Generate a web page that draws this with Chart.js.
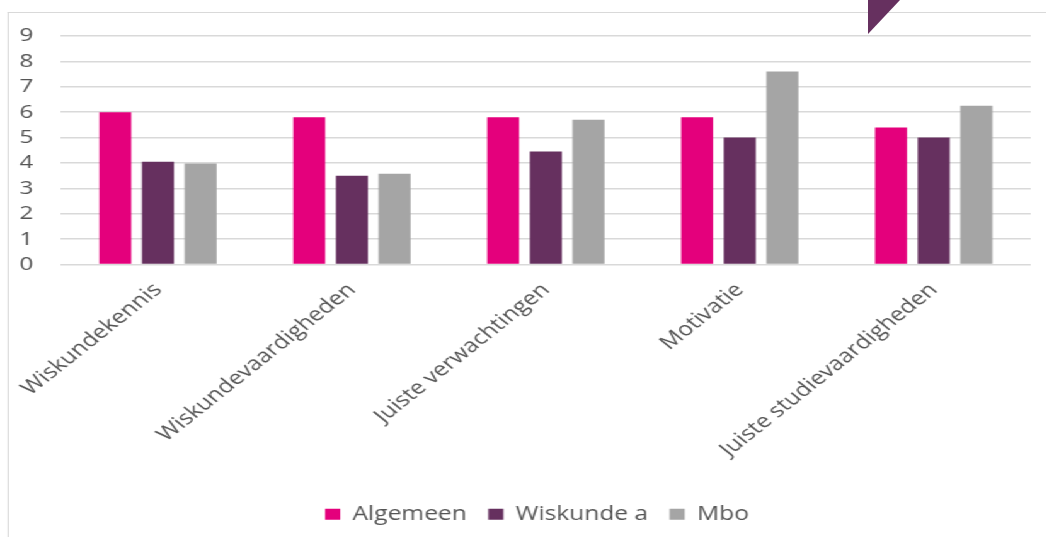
<!DOCTYPE html>
<html>
<head>
<meta charset="utf-8">
<script src="https://cdn.jsdelivr.net/npm/chart.js@4.4.1/dist/chart.umd.min.js"></script>
<style>
  html, body { margin:0; padding:0; background:#fff; overflow:hidden; }
  body { width:1046px; height:537px; position:relative; }
  /* the reference is stretched sideways, so the chart is drawn narrower and scaled */
  #wrap { position:absolute; left:0; top:0; width:830px; height:537px; transform:scaleX(1.26); transform-origin:0 0; }
  #frame { position:absolute; left:6px; top:12px; right:-40px; bottom:-10px; border-left:1.5px solid #d9d9d9; border-top:1.5px solid #d9d9d9; }
  #corner { position:absolute; left:868px; top:0; width:32px; height:34px; background:#66305f; clip-path:polygon(0 0,100% 0,0 100%); }
  canvas { position:absolute; left:0; top:0; }
</style>
</head>
<body>
<div id="wrap">
  <div id="frame"></div>
  <canvas id="chart" width="830" height="537"></canvas>
</div>
<div id="corner"></div>
<script>
/* ---------------------------
   Data
   --------------------------- */
const categories = ['Wiskundekennis','Wiskundevaardigheden','Juiste verwachtingen','Motivatie','Juiste studievaardigheden'];
const algemeen   = [6.0, 5.8, 5.8, 5.8, 5.4];
const wiskundeA  = [4.05, 3.5, 4.45, 5.0, 5.0];
const mbo        = [3.98, 3.57, 5.7, 7.6, 6.25];
const seriesNames = ['Algemeen','Wiskunde a','Mbo'];
const yMin = 0, yMax = 9, yStep = 1;

const colors = ['#e4007c','#66305f','#a5a5a5'];
const textColor = '#555555';

// legend sits a bit right of the canvas centre, near the plot centre
const legendShift = {
  id: 'legendShift',
  afterLayout(chart) {
    const lg = chart.legend;
    const dx = (chart.chartArea.left + chart.chartArea.right) / 2 - 7 - (lg.left + lg.right) / 2;
    lg.left += dx; lg.right += dx;
  }
};

const ctx = document.getElementById('chart').getContext('2d');
const chart = new Chart(ctx, {
  type: 'bar',
  data: {
    labels: categories,
    datasets: [algemeen, wiskundeA, mbo].map((d,i)=>({
      label: seriesNames[i],
      data: d,
      backgroundColor: colors[i],
      categoryPercentage: 0.66,
      barPercentage: 0.75
    }))
  },
  plugins: [legendShift],
  options: {
    responsive: false,
    animation: false,
    layout: { padding: { top:36, left:10, right:12, bottom:3 } },
    plugins: {
      tooltip: { enabled:false },
      legend: {
        position: 'bottom',
        labels: {
          color: textColor,
          font: { family:'Open Sans', size:19.5 },
          boxWidth: 12, boxHeight: 11,
          padding: 17
        }
      }
    },
    scales: {
      x: {
        grid: { display:false },
        border: { display:false },
        ticks: {
          color: textColor,
          font: { family:'Open Sans', size:19.5 },
          minRotation: 45, maxRotation: 45,
          autoSkip: false,
          padding: 6
        },
        afterFit: s => { s.height = 223; }
      },
      y: {
        min: yMin, max: yMax,
        grid: { color:'#d9d9d9', lineWidth:1.6, drawTicks:false },
        border: { display:false },
        ticks: {
          stepSize: yStep,
          autoSkip: false,
          color: textColor,
          font: { family:'Open Sans', size:19 },
          padding: 22
        },
        afterFit: s => { s.width = 38.4; }
      }
    }
  }
});
</script>
</body>
</html>
